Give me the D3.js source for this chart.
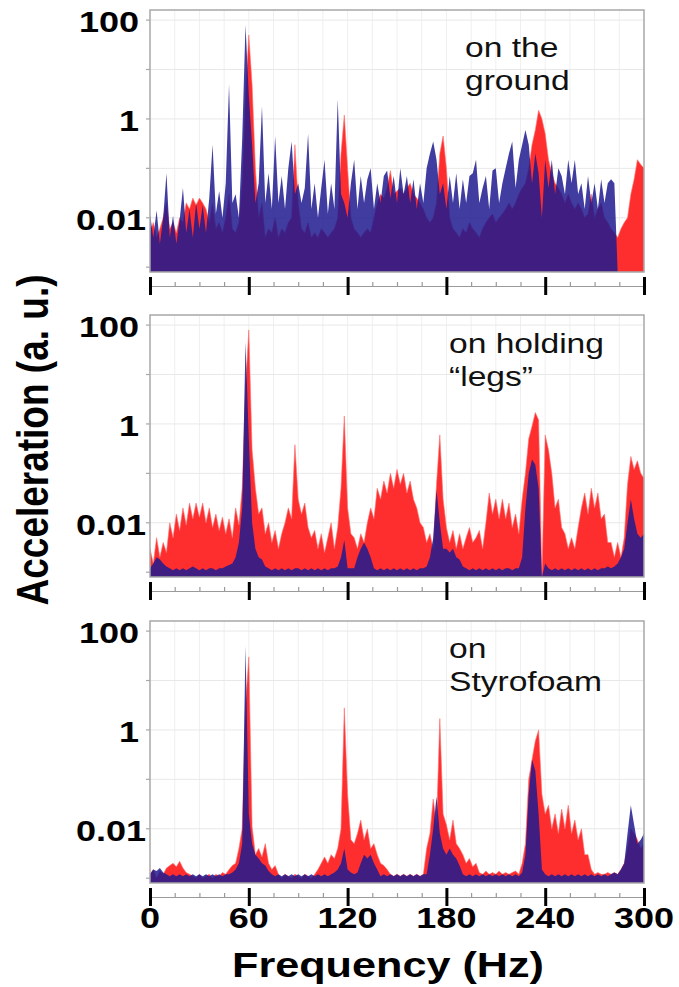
<!DOCTYPE html>
<meta charset="utf-8">
<script src="https://d3js.org/d3.v7.min.js"></script>
<style>
body { margin: 0; background: #fff; }
text { font-family: "Liberation Sans", Arial, sans-serif; }
</style>
<body>
<script>
// spectra sampled every 2 Hz, 0..300 Hz (151 values each)
var step = 2;
var freqTicks = [0, 60, 120, 180, 240, 300];
var yTicks = [100, 1, 0.01];
var decades = [0.001, 0.01, 0.1, 1, 10, 100];

// on the ground
var groundRed = [
  .005,.008,.004,.006,.01,.02,.006,.008,.005,.01,
  .008,.02,.015,.025,.018,.025,.02,.015,.008,.02,
  .006,.008,.005,.01,.03,.006,.005,.008,.05,3,
  50,5,.1,.01,.02,.004,.006,.005,.01,.004,
  .006,.005,.008,.01,.3,.02,.006,.005,.008,.004,
  .005,.004,.006,.005,.004,.005,.006,.01,.2,1.2,
  .1,.01,.006,.005,.004,.005,.006,.005,.01,.02,
  .03,.025,.04,.09,.03,.035,.04,.03,.04,.05,
  .03,.025,.02,.015,.01,.008,.01,.02,.2,.45,
  .1,.01,.006,.005,.004,.006,.005,.008,.006,.005,
  .004,.006,.008,.01,.012,.008,.01,.012,.015,.02,
  .015,.02,.03,.04,.05,.1,.3,.6,1.5,1,
  .5,.15,.08,.05,.04,.03,.02,.03,.02,.015,
  .02,.015,.01,.012,.03,.01,.015,.02,.01,.008,
  .006,.005,.004,.006,.008,.01,.03,.06,.15,.12,
  .1];
var groundBlue = [
  .012,.004,.014,.003,.01,.08,.004,.011,.003,.009,
  .04,.005,.015,.004,.02,.006,.018,.005,.025,.3,
  .012,.035,.01,.05,5,.02,.03,.01,.4,80,
  3,.3,.02,.05,1.8,.02,.08,.015,.45,.02,
  .07,.015,.1,.35,.03,.05,.02,.04,.5,.015,
  .05,.01,.04,.15,.012,.05,.015,2.5,.03,.02,
  .01,.05,.15,.015,.07,.02,.06,.1,.015,.05,
  .02,.07,.09,.025,.07,.02,.1,.03,.07,.02,
  .06,.015,.05,.02,.1,.2,.35,.15,.03,.05,
  .015,.07,.02,.08,.015,.06,.02,.07,.08,.15,
  .02,.04,.07,.015,.09,.1,.02,.05,.1,.2,
  .35,.04,.15,.3,.6,.3,.05,.2,.08,.01,
  .15,.04,.15,.03,.1,.07,.03,.15,.05,.15,
  .03,.05,.015,.07,.02,.05,.015,.06,.02,.05,
  .06,.05,8e-4,8e-4,8e-4,8e-4,8e-4,8e-4,8e-4,8e-4,
  8e-4];

// on holding "legs"
var legsRed = [
  .003,.0015,.005,.002,.004,.0025,.01,.005,.015,.007,
  .02,.009,.025,.012,.025,.013,.025,.01,.02,.008,
  .015,.007,.013,.006,.012,.005,.02,.009,.05,5,
  80,.3,.05,.015,.02,.006,.01,.004,.007,.003,
  .006,.01,.02,.012,.38,.03,.015,.025,.008,.005,
  .007,.003,.006,.0025,.005,.01,.003,.008,.05,1.45,
  .02,.006,.005,.003,.006,.004,.01,.02,.012,.05,
  .03,.07,.04,.1,.05,.12,.06,.1,.04,.07,
  .03,.02,.01,.008,.004,.006,.003,.06,.6,.03,
  .008,.004,.007,.003,.006,.003,.005,.008,.004,.005,
  .007,.003,.01,.04,.015,.03,.012,.03,.012,.025,
  .008,.015,.006,.03,.1,.5,.9,1.7,1.2,8e-4,
  .6,.3,.1,.02,.03,.008,.006,.003,.005,.003,
  .008,.02,.04,.015,.05,.02,.04,.012,.015,.004,
  .004,.002,.004,.002,.005,.06,.22,.12,.18,.1,
  .08];
var legsBlue = [
  .0012,.0015,.002,.0018,.0015,.0013,.0012,.0011,.0012,.0011,
  .0012,.0011,.0012,.0013,.0012,.0011,.0012,.0011,.0012,.0012,
  .0011,.0012,.0012,.0013,.0014,.0015,.002,.004,.02,45,
  .5,.01,.003,.002,.0018,.0013,.0012,.0011,.0012,.0011,
  .0012,.0011,.0012,.0011,.0012,.0012,.0011,.0012,.0011,.0012,
  .0011,.0012,.0011,.0012,.0011,.0012,.0012,.0013,.002,.0045,
  .0012,.0012,.0012,.002,.003,.004,.003,.002,.0012,.0011,
  .0012,.0011,.0012,.0011,.0012,.0011,.0012,.0011,.0012,.0011,
  .0012,.0011,.0012,.0012,.0013,.002,.005,.046,.01,.003,
  .003,.0025,.003,.002,.0018,.0013,.0012,.0011,.0012,.0011,
  .0012,.0011,.0012,.0011,.0012,.0011,.0012,.0011,.0012,.0012,
  .0011,.0012,.0012,.002,.02,.1,.19,.15,.05,8e-4,
  .0015,.0012,.0011,.0012,.0011,.0012,.0011,.0012,.0011,.0012,
  .0011,.0012,.0011,.0012,.0011,.0012,.0011,.0012,.0012,.0013,
  .0012,.0013,.0015,.002,.003,.01,.03,.012,.006,.005,
  .006];

// on Styrofoam
var styroRed = [
  .0012,.0015,.001,.0014,.0012,.0016,.0018,.002,.0017,.0022,
  .0016,.0013,.0012,.0011,.001,.0012,.001,.0011,.0012,.001,
  .0012,.0011,.0013,.0012,.0015,.0018,.002,.004,.01,3,
  30,.011,.003,.004,.0027,.005,.002,.0015,.0018,.0012,
  .001,.0012,.0011,.001,.0012,.0011,.001,.0012,.0011,.001,
  .0012,.0015,.002,.0027,.002,.003,.0025,.004,.01,2.8,
  .05,.006,.005,.008,.015,.006,.01,.004,.005,.003,
  .002,.0018,.0015,.0012,.0011,.0012,.0011,.0012,.0011,.0012,
  .0011,.0012,.0011,.0012,.004,.008,.04,.012,1.7,.02,
  .012,.006,.015,.005,.004,.003,.002,.0025,.0017,.002,
  .0013,.0012,.0014,.0012,.0013,.0012,.0014,.0012,.0013,.0012,
  .0013,.0014,.0012,.002,.005,.1,.25,.6,1,.05,
  .02,.03,.01,.02,.008,.025,.01,.03,.008,.015,
  .006,.01,.003,.003,.0015,.0012,.0013,.0012,.0012,.0013,
  .0012,.0013,.0012,.0015,.002,.004,.01,.008,.006,.004,
  .005];
var styroBlue = [
  .0012,.0015,.0014,.0016,.0013,.0012,.0011,.0012,.0011,.0012,
  .0011,.0012,.0011,.0012,.0011,.0012,.0011,.0012,.0011,.0012,
  .0011,.0012,.0011,.0012,.0012,.0013,.0015,.002,.005,50,
  .02,.005,.003,.0025,.002,.0018,.0014,.0012,.0011,.0012,
  .0011,.0012,.0011,.0012,.0011,.0012,.0011,.0012,.0011,.0012,
  .0011,.0012,.0011,.0012,.0011,.0012,.0013,.0015,.002,.004,
  .0015,.0013,.0012,.0013,.002,.003,.0025,.003,.002,.0015,
  .0011,.0012,.0011,.0012,.0011,.0012,.0011,.0012,.0011,.0012,
  .0011,.0012,.0011,.0012,.0012,.003,.01,.045,.008,.004,
  .003,.004,.003,.0025,.0018,.0012,.0011,.0012,.0011,.0012,
  .0011,.0012,.0011,.0012,.0011,.0012,.0011,.0012,.0011,.0012,
  .0011,.0012,.0011,.0013,.003,.05,.25,.15,.02,.0015,
  .0012,.0011,.0012,.0011,.0012,.0011,.0012,.0011,.0012,.0011,
  .0012,.0011,.0012,.0011,.0012,.0011,.0012,.0011,.0012,.0011,
  .0012,.0013,.0012,.0015,.002,.008,.03,.012,.005,.006,
  .008];

var panelLabels = [["on the", "ground"], ["on holding", "\u201clegs\u201d"], ["on", "Styrofoam"]];

// layout
var plotLeft = 150, plotRight = 644, plotH = 262;
var panels = [
  {top: 10,  red: groundRed, blue: groundBlue, lx: 465, ly: 47},
  {top: 315, red: legsRed,   blue: legsBlue,   lx: 449, ly: 38},
  {top: 621, red: styroRed,  blue: styroBlue,  lx: 449, ly: 37}
];
var redCol = "#ff2e2e", blueCol = "#1f1a8f";
var stretch = "scale(1.2,1)";

var svg = d3.select("body").append("svg")
    .attr("width", 679)
    .attr("height", 987);

var x = d3.scaleLinear().domain([0, 300]).range([plotLeft, plotRight]);
var minor = d3.range(15, 300, 15);

panels.forEach(function(p, k) {
    var B = p.top + plotH;
    var y = d3.scaleLog().domain([8e-4, 160]).range([B, p.top]);
    var g = svg.append("g");

    svg.append("clipPath").attr("id", "clip" + k)
      .append("rect")
        .attr("x", plotLeft).attr("y", p.top)
        .attr("width", plotRight - plotLeft).attr("height", plotH);

    // faint grid
    g.selectAll(".vg").data(minor).enter().append("line")
        .attr("x1", function(d) { return x(d); })
        .attr("x2", function(d) { return x(d); })
        .attr("y1", p.top).attr("y2", B)
        .attr("stroke", "#efefef").attr("stroke-width", 1);
    g.selectAll(".hg").data(decades).enter().append("line")
        .attr("x1", plotLeft).attr("x2", plotRight)
        .attr("y1", function(d) { return y(d); })
        .attr("y2", function(d) { return y(d); })
        .attr("stroke", "#e8e8e8").attr("stroke-width", 1);

    var area = d3.area()
        .x(function(d, i) { return x(i * step); })
        .y0(B)
        .y1(function(d) { return y(d); });

    var plot = g.append("g").attr("clip-path", "url(#clip" + k + ")");
    plot.append("path").datum(p.red)
        .attr("d", area)
        .attr("fill", redCol)
        .attr("stroke", "#ff7070")
        .attr("stroke-width", 0.6);
    plot.append("path").datum(p.blue)
        .attr("d", area)
        .attr("fill", blueCol)
        .attr("fill-opacity", 0.85);

    // frame
    g.append("rect")
        .attr("x", plotLeft).attr("y", p.top)
        .attr("width", plotRight - plotLeft).attr("height", plotH)
        .attr("fill", "none").attr("stroke", "#a8a8a8").attr("stroke-width", 1.5);

    // small left ticks
    g.selectAll(".lt").data(decades).enter().append("line")
        .attr("x1", plotLeft - 4).attr("x2", plotLeft)
        .attr("y1", function(d) { return y(d); })
        .attr("y2", function(d) { return y(d); })
        .attr("stroke", "#a8a8a8").attr("stroke-width", 1.2);

    // y tick labels
    g.selectAll(".yl").data(yTicks).enter().append("text")
        .attr("transform", function(d) { return "translate(" + (d < 0.1 ? 146 : 139) + "," + (y(d) + 12) + ")" + stretch; })
        .attr("text-anchor", "end")
        .attr("font-size", "30px")
        .attr("font-weight", "bold")
        .text(function(d) { return d; });

    // bottom axis: gray line with minor ticks, black major ticks
    var minAx = g.append("g")
        .attr("transform", "translate(0," + (B + 14) + ")")
        .call(d3.axisTop(x).tickValues(minor).tickSize(4).tickSizeOuter(0).tickFormat(""));
    minAx.selectAll("line, path").attr("stroke", "#9a9a9a").attr("stroke-width", 1.2);

    var majAx = g.append("g")
        .attr("transform", "translate(0," + (B + 5) + ")")
        .call(d3.axisBottom(x).tickValues(freqTicks).tickSize(18).tickSizeOuter(0).tickFormat(""));
    majAx.select(".domain").remove();
    majAx.selectAll("line").attr("stroke", "#000").attr("stroke-width", 3);

    // annotation
    g.selectAll(".ann").data(panelLabels[k]).enter().append("text")
        .attr("transform", function(d, i) { return "translate(" + p.lx + "," + (p.top + p.ly + i * 33) + ")" + stretch; })
        .attr("font-size", "28px")
        .attr("fill", "#111")
        .text(function(d) { return d; });

    if (k === panels.length - 1) {
        g.selectAll(".xl").data(freqTicks).enter().append("text")
            .attr("transform", function(d) { return "translate(" + x(d) + "," + (B + 45) + ")" + stretch; })
            .attr("text-anchor", "middle")
            .attr("font-size", "30px")
            .attr("font-weight", "bold")
            .text(function(d) { return d; });
    }
});

// axis titles
svg.append("text")
    .attr("transform", "translate(388,977)" + stretch)
    .attr("text-anchor", "middle")
    .attr("font-size", "36px")
    .attr("font-weight", "bold")
    .text("Frequency (Hz)");

svg.append("text")
    .attr("transform", "translate(48,440)" + stretch + " rotate(-90)")
    .attr("text-anchor", "middle")
    .attr("font-size", "37px")
    .attr("font-weight", "bold")
    .text("Acceleration (a. u.)");
</script>
</body>
